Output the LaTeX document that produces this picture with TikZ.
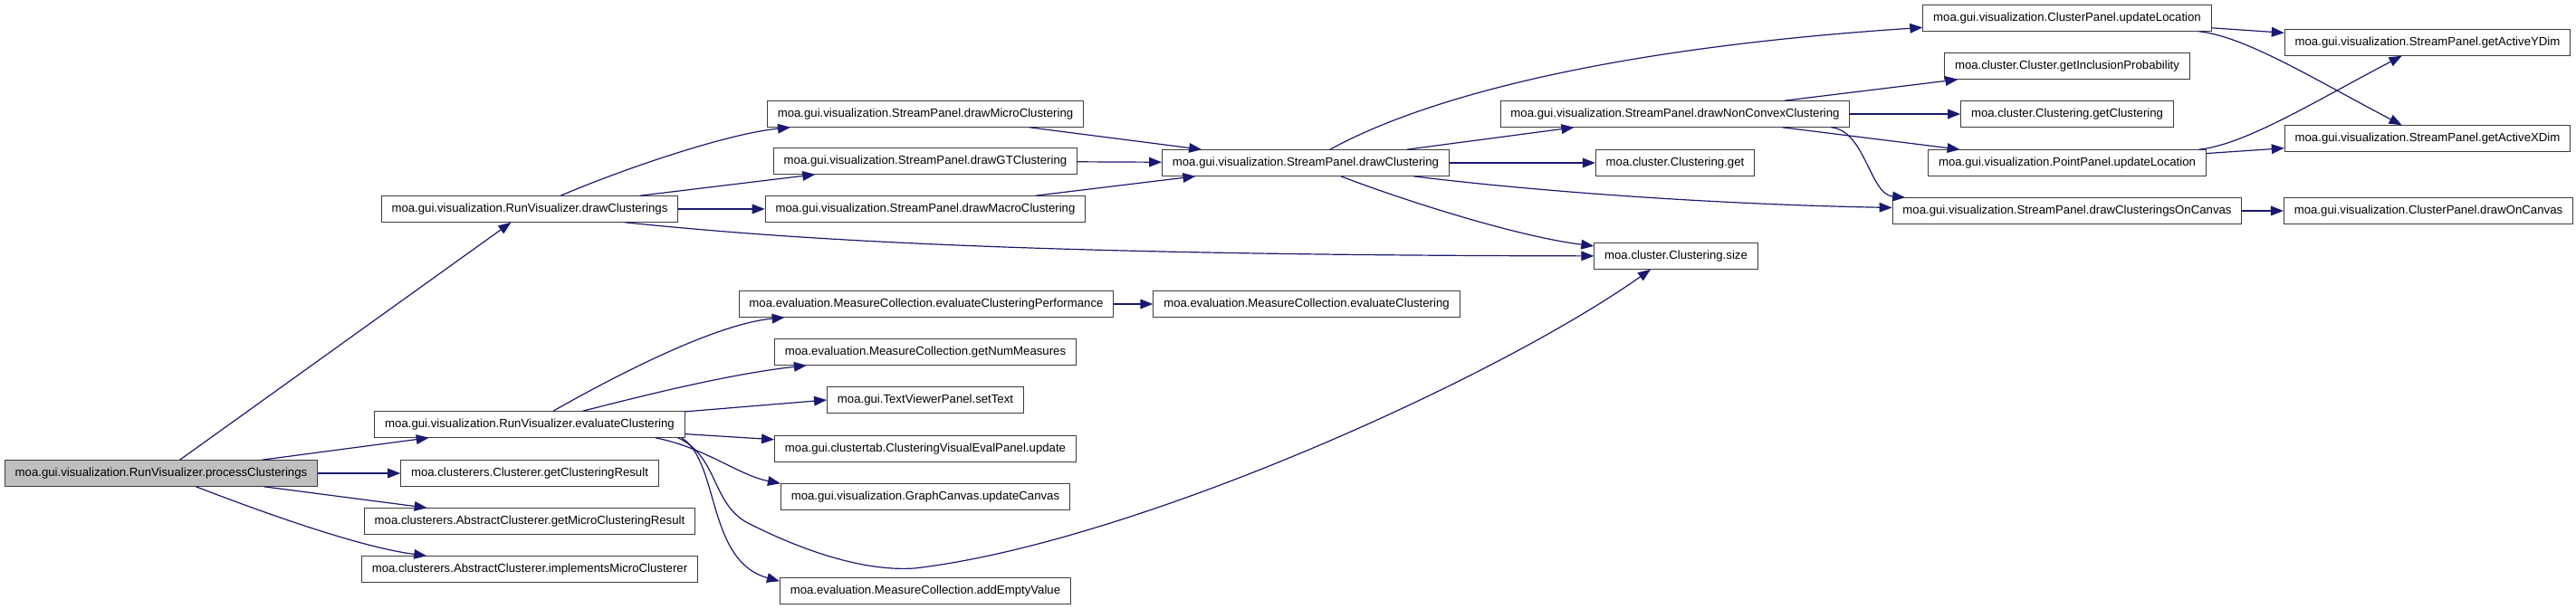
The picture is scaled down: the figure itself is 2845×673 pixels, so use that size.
\documentclass[tikz,border=0pt]{standalone}
\usepackage{fontspec}
\setmainfont{Liberation Sans}
\usetikzlibrary{arrows.meta,calc}

\definecolor{callblue}{RGB}{25,25,112}
\definecolor{rootgrey}{RGB}{191,191,191}
\definecolor{boxline}{RGB}{60,60,60}

\tikzset{every picture/.style={line width=0.75pt}}
\tikzset{
  fnbox/.style={draw=boxline, rectangle, minimum height=21.4pt, inner xsep=8.5pt, inner ysep=0pt, font=\fontsize{9.9}{12}\selectfont},
  rootbox/.style={fnbox, fill=rootgrey},
  call/.style={draw=callblue, line width=0.9pt, -{Triangle[length=10.5pt,width=8pt]}}
}

\begin{document}
\begin{tikzpicture}[x=0.75pt,y=0.75pt,yscale=-1,xscale=1]
      %set diagram left start at 0, and has height of 673
      \useasboundingbox (0,0) rectangle (2845,673);

      % Root Node
      \draw (178,523) node [rootbox] (proc) {moa.gui.visualization.RunVisualizer.processClusterings};
      % Text Node
      \draw (585,231) node [fnbox] (drawCl) {moa.gui.visualization.RunVisualizer.drawClusterings};
      \draw (585,469) node [fnbox] (evalCl) {moa.gui.visualization.RunVisualizer.evaluateClustering};
      \draw (585,523) node [fnbox] (getCR) {moa.clusterers.Clusterer.getClusteringResult};
      \draw (585,576) node [fnbox] (getMCR) {moa.clusterers.AbstractClusterer.getMicroClusteringResult};
      \draw (585,629) node [fnbox] (implMC) {moa.clusterers.AbstractClusterer.implementsMicroClusterer};
      % Text Node
      \draw (1022,126) node [fnbox] (drawMicro) {moa.gui.visualization.StreamPanel.drawMicroClustering};
      \draw (1022,178) node [fnbox] (drawGT) {moa.gui.visualization.StreamPanel.drawGTClustering};
      \draw (1022,231) node [fnbox] (drawMacro) {moa.gui.visualization.StreamPanel.drawMacroClustering};
      \draw (1023,336) node [fnbox] (evalPerf) {moa.evaluation.MeasureCollection.evaluateClusteringPerformance};
      \draw (1022,389) node [fnbox] (numMeas) {moa.evaluation.MeasureCollection.getNumMeasures};
      \draw (1022,442) node [fnbox] (setText) {moa.gui.TextViewerPanel.setText};
      \draw (1022,496) node [fnbox] (evalUpd) {moa.gui.clustertab.ClusteringVisualEvalPanel.update};
      \draw (1022,549) node [fnbox] (updCanvas) {moa.gui.visualization.GraphCanvas.updateCanvas};
      \draw (1022,653) node [fnbox] (addEmpty) {moa.evaluation.MeasureCollection.addEmptyValue};
      % Text Node
      \draw (1442,180) node [fnbox] (spDraw) {moa.gui.visualization.StreamPanel.drawClustering};
      \draw (1443,336) node [fnbox] (mcEval) {moa.evaluation.MeasureCollection.evaluateClustering};
      % Text Node
      \draw (1850,126) node [fnbox] (nonConvex) {moa.gui.visualization.StreamPanel.drawNonConvexClustering};
      \draw (1850,180) node [fnbox] (clGet) {moa.cluster.Clustering.get};
      \draw (1851,283) node [fnbox] (clSize) {moa.cluster.Clustering.size};
      % Text Node
      \draw (2283,20) node [fnbox] (cpUpd) {moa.gui.visualization.ClusterPanel.updateLocation};
      \draw (2283,73) node [fnbox] (inclProb) {moa.cluster.Cluster.getInclusionProbability};
      \draw (2283,126) node [fnbox] (getClu) {moa.cluster.Clustering.getClustering};
      \draw (2283,180) node [fnbox] (ppUpd) {moa.gui.visualization.PointPanel.updateLocation};
      \draw (2283,233) node [fnbox] (onCanvas) {moa.gui.visualization.StreamPanel.drawClusteringsOnCanvas};
      % Text Node
      \draw (2681,47) node [fnbox] (yDim) {moa.gui.visualization.StreamPanel.getActiveYDim};
      \draw (2681,153) node [fnbox] (xDim) {moa.gui.visualization.StreamPanel.getActiveXDim};
      \draw (2682,233) node [fnbox] (drawOn) {moa.gui.visualization.ClusterPanel.drawOnCanvas};

      %Straight Lines
      \draw [call] (proc) -- (drawCl);
      \draw [call] (proc) -- (evalCl);
      \draw [call] (proc) -- (getCR);
      \draw [call] (proc) -- (getMCR);
      %Curve Lines
      \draw [call] (proc) .. controls (300,570) and (400,605) .. (implMC);

      \draw [call] (drawCl) .. controls (680,190) and (800,148) .. (drawMicro);
      \draw [call] (drawCl) -- (drawGT);
      \draw [call] (drawCl) -- (drawMacro);
      \draw [call] ($(drawCl.south)+(105,0)$) .. controls (850,262) and (1100,282) .. (clSize);

      \draw [call] (drawMicro) -- (spDraw);
      \draw [call] (drawGT) -- (spDraw);
      \draw [call] (drawMacro) -- (spDraw);

      \draw [call] (spDraw) .. controls (1560,115) and (1750,55) .. (cpUpd);
      \draw [call] (spDraw) -- (nonConvex);
      \draw [call] (spDraw) -- (clGet);
      \draw [call] (spDraw) .. controls (1700,212) and (1900,226) .. (onCanvas);
      \draw [call] (spDraw) .. controls (1560,225) and (1680,262) .. (clSize);

      \draw [call] (nonConvex) -- (inclProb);
      \draw [call] (nonConvex) -- (getClu);
      \draw [call] (nonConvex) -- (ppUpd);
      \draw [call] (nonConvex) .. controls (2060,144) and (2065,215) .. (onCanvas);

      \draw [call] (cpUpd) -- (yDim);
      \draw [call] (cpUpd) .. controls (2480,40) and (2560,90) .. (xDim);
      \draw [call] (ppUpd) .. controls (2480,160) and (2560,110) .. (yDim);
      \draw [call] (ppUpd) -- (xDim);
      \draw [call] (onCanvas) -- (drawOn);

      \draw [call] (evalCl) .. controls (680,415) and (790,358) .. (evalPerf);
      \draw [call] (evalCl) .. controls (700,440) and (800,414) .. (numMeas);
      \draw [call] (evalCl) -- (setText.west);
      \draw [call] (evalCl) -- (evalUpd);
      \draw [call] ($(evalCl.south east)+(-33,0)$) .. controls (780,495) and (815,525) .. (updCanvas.north west);
      \draw [call] ($(evalCl.south east)+(-4,0)$) .. controls (795,510) and (780,620) .. ($(addEmpty.north west)+(0,4)$);
      \draw [call] ($(evalCl.south east)+(-8,0)$) .. controls (795,505) and (785,560) .. (830,580) .. controls (880,605) and (950,632) .. (1010,628) .. controls (1250,600) and (1650,420) .. ($(clSize.south)+(-28,0)$);
      \draw [call] (evalPerf) -- (mcEval);
\end{tikzpicture}
\end{document}
